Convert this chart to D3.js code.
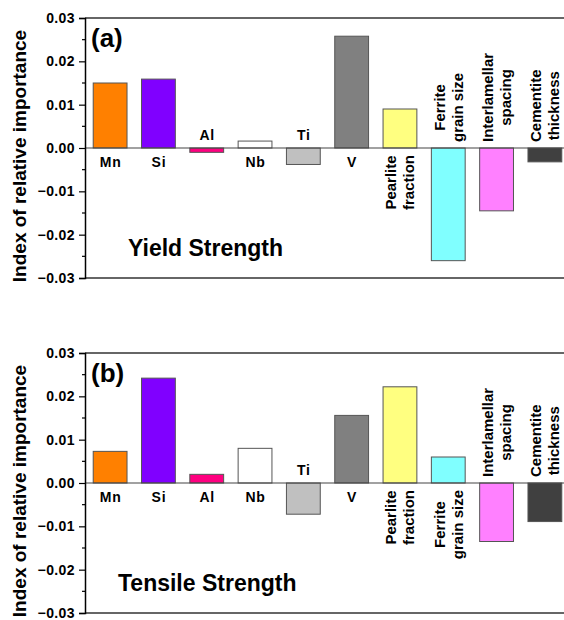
<!DOCTYPE html>
<html>
<head>
<meta charset="utf-8">
<script src="https://cdn.jsdelivr.net/npm/d3@7"></script>
<style>
  body { margin: 0; background: #fff; }
  svg { display: block; }
  text { font-family: "Liberation Sans", Arial, sans-serif; font-weight: bold; fill: #000; }
</style>
</head>
<body>
<div id="chart"></div>
<script>
// categories and values
const categories = ['Mn', 'Si', 'Al', 'Nb', 'Ti', 'V', 'Pearlite fraction', 'Ferrite grain size',
  'Interlamellar spacing', 'Cementite thickness'];
const yieldValues = [0.0150, 0.0159, -0.0010, 0.0016, -0.0038, 0.0258, 0.0090, -0.0260, -0.0145, -0.0032];
const tensileValues = [0.0073, 0.0242, 0.0020, 0.0080, -0.0072, 0.0156, 0.0222, 0.0060, -0.0135, -0.0089];
const barColors = ['#ff8000', '#8000ff', '#ff0080', '#ffffff', '#c0c0c0', '#808080', '#ffff80', '#80ffff',
  '#ff80ff', '#404040'];
const yTicks = [-0.03, -0.02, -0.01, 0.00, 0.01, 0.02, 0.03];
const yMinorTicks = [-0.025, -0.015, -0.005, 0.005, 0.015, 0.025];
const panels = [
  { tag: '(a)', title: 'Yield Strength', values: yieldValues },
  { tag: '(b)', title: 'Tensile Strength', values: tensileValues }
];

const width = 564, height = 620;
const left = 85, right = 570;
const plotH = 260;
const panelTops = [18, 353];

const svg = d3.select('#chart').append('svg')
  .attr('width', width)
  .attr('height', height);

const x = d3.scaleBand()
  .domain(categories)
  .range([left, right])
  .paddingInner(0.3)
  .paddingOuter(0.17);

panels.forEach(function (p, pi) {
  const top = panelTops[pi];
  const y = d3.scaleLinear().domain([-0.03, 0.03]).range([top + plotH, top]);
  const g = svg.append('g');

  // frame lines top / bottom
  g.append('line')
    .attr('x1', left).attr('x2', width)
    .attr('y1', top).attr('y2', top)
    .attr('stroke', '#333').attr('stroke-width', 1.5);
  g.append('line')
    .attr('x1', left).attr('x2', width)
    .attr('y1', top + plotH).attr('y2', top + plotH)
    .attr('stroke', '#333').attr('stroke-width', 1.5);

  // bars
  g.selectAll('.bar').data(p.values).enter().append('rect')
    .attr('class', 'bar')
    .attr('x', (d, i) => x(categories[i]))
    .attr('width', x.bandwidth())
    .attr('y', d => y(Math.max(0, d)))
    .attr('height', d => Math.abs(y(d) - y(0)))
    .attr('fill', (d, i) => barColors[i])
    .attr('stroke', '#555')
    .attr('stroke-width', 1);

  // zero line
  g.append('line')
    .attr('x1', left).attr('x2', width)
    .attr('y1', y(0)).attr('y2', y(0))
    .attr('stroke', '#444').attr('stroke-width', 1.2);

  // y axis
  const axis = g.append('g')
    .attr('transform', 'translate(' + left + ',0)')
    .call(d3.axisLeft(y).tickValues(yTicks).tickFormat(d3.format('.2f')).tickSize(6).tickPadding(4));
  axis.select('.domain').attr('stroke', '#000').attr('stroke-width', 1.5);
  axis.selectAll('.tick line').attr('stroke', '#000').attr('stroke-width', 1.2);
  axis.selectAll('.tick text')
    .style('font-family', '"Liberation Sans", Arial, sans-serif')
    .style('font-weight', 'bold')
    .style('font-size', '14px')
    .style('letter-spacing', '0.4px')
    .attr('fill', '#000');
  g.selectAll('.minor').data(yMinorTicks).enter().append('line')
    .attr('x1', left - 3).attr('x2', left)
    .attr('y1', d => y(d)).attr('y2', d => y(d))
    .attr('stroke', '#000').attr('stroke-width', 1.2);

  // category labels, put on the side opposite the bar
  categories.forEach(function (c, i) {
    const v = p.values[i];
    const cx = x(c) + x.bandwidth() / 2;
    const words = c.split(' ');
    if (words.length === 1) {
      g.append('text')
        .attr('x', cx + 0.5)
        .attr('y', v >= 0 ? y(0) + 19 : y(0) - 8)
        .attr('text-anchor', 'middle')
        .style('font-size', '14px')
        .style('letter-spacing', '0.8px')
        .text(c);
    } else {
      const lines = [words[0], words.slice(1).join(' ')];
      const tmp = lines.map(function (l) {
        const t = g.append('text').style('font-size', '15px').text(l);
        const len = t.node().getComputedTextLength();
        t.remove();
        return len;
      });
      const L = d3.max(tmp);
      const cy = v >= 0 ? y(0) + 7 + L / 2 : y(0) - 6 - L / 2;
      lines.forEach(function (l, li) {
        g.append('text')
          .attr('transform', 'translate(' + (cx + (li === 0 ? -9 : 9)) + ',' + cy + ') rotate(-90)')
          .attr('text-anchor', 'middle')
          .attr('dy', '0.35em')
          .style('font-size', '15px')
          .text(l);
      });
    }
  });

  // panel tag and title
  g.append('text')
    .attr('x', 91).attr('y', top + 29)
    .style('font-size', '26px')
    .text(p.tag);
  g.append('text')
    .attr('x', pi === 0 ? 128 : 118).attr('y', top + 238)
    .style('font-size', '23px')
    .text(p.title);

  // y axis title
  g.append('text')
    .attr('transform', 'translate(26,' + (top + 138) + ') rotate(-90)')
    .attr('text-anchor', 'middle')
    .style('font-size', '19px')
    .text('Index of relative importance');
});
</script>
</body>
</html>
